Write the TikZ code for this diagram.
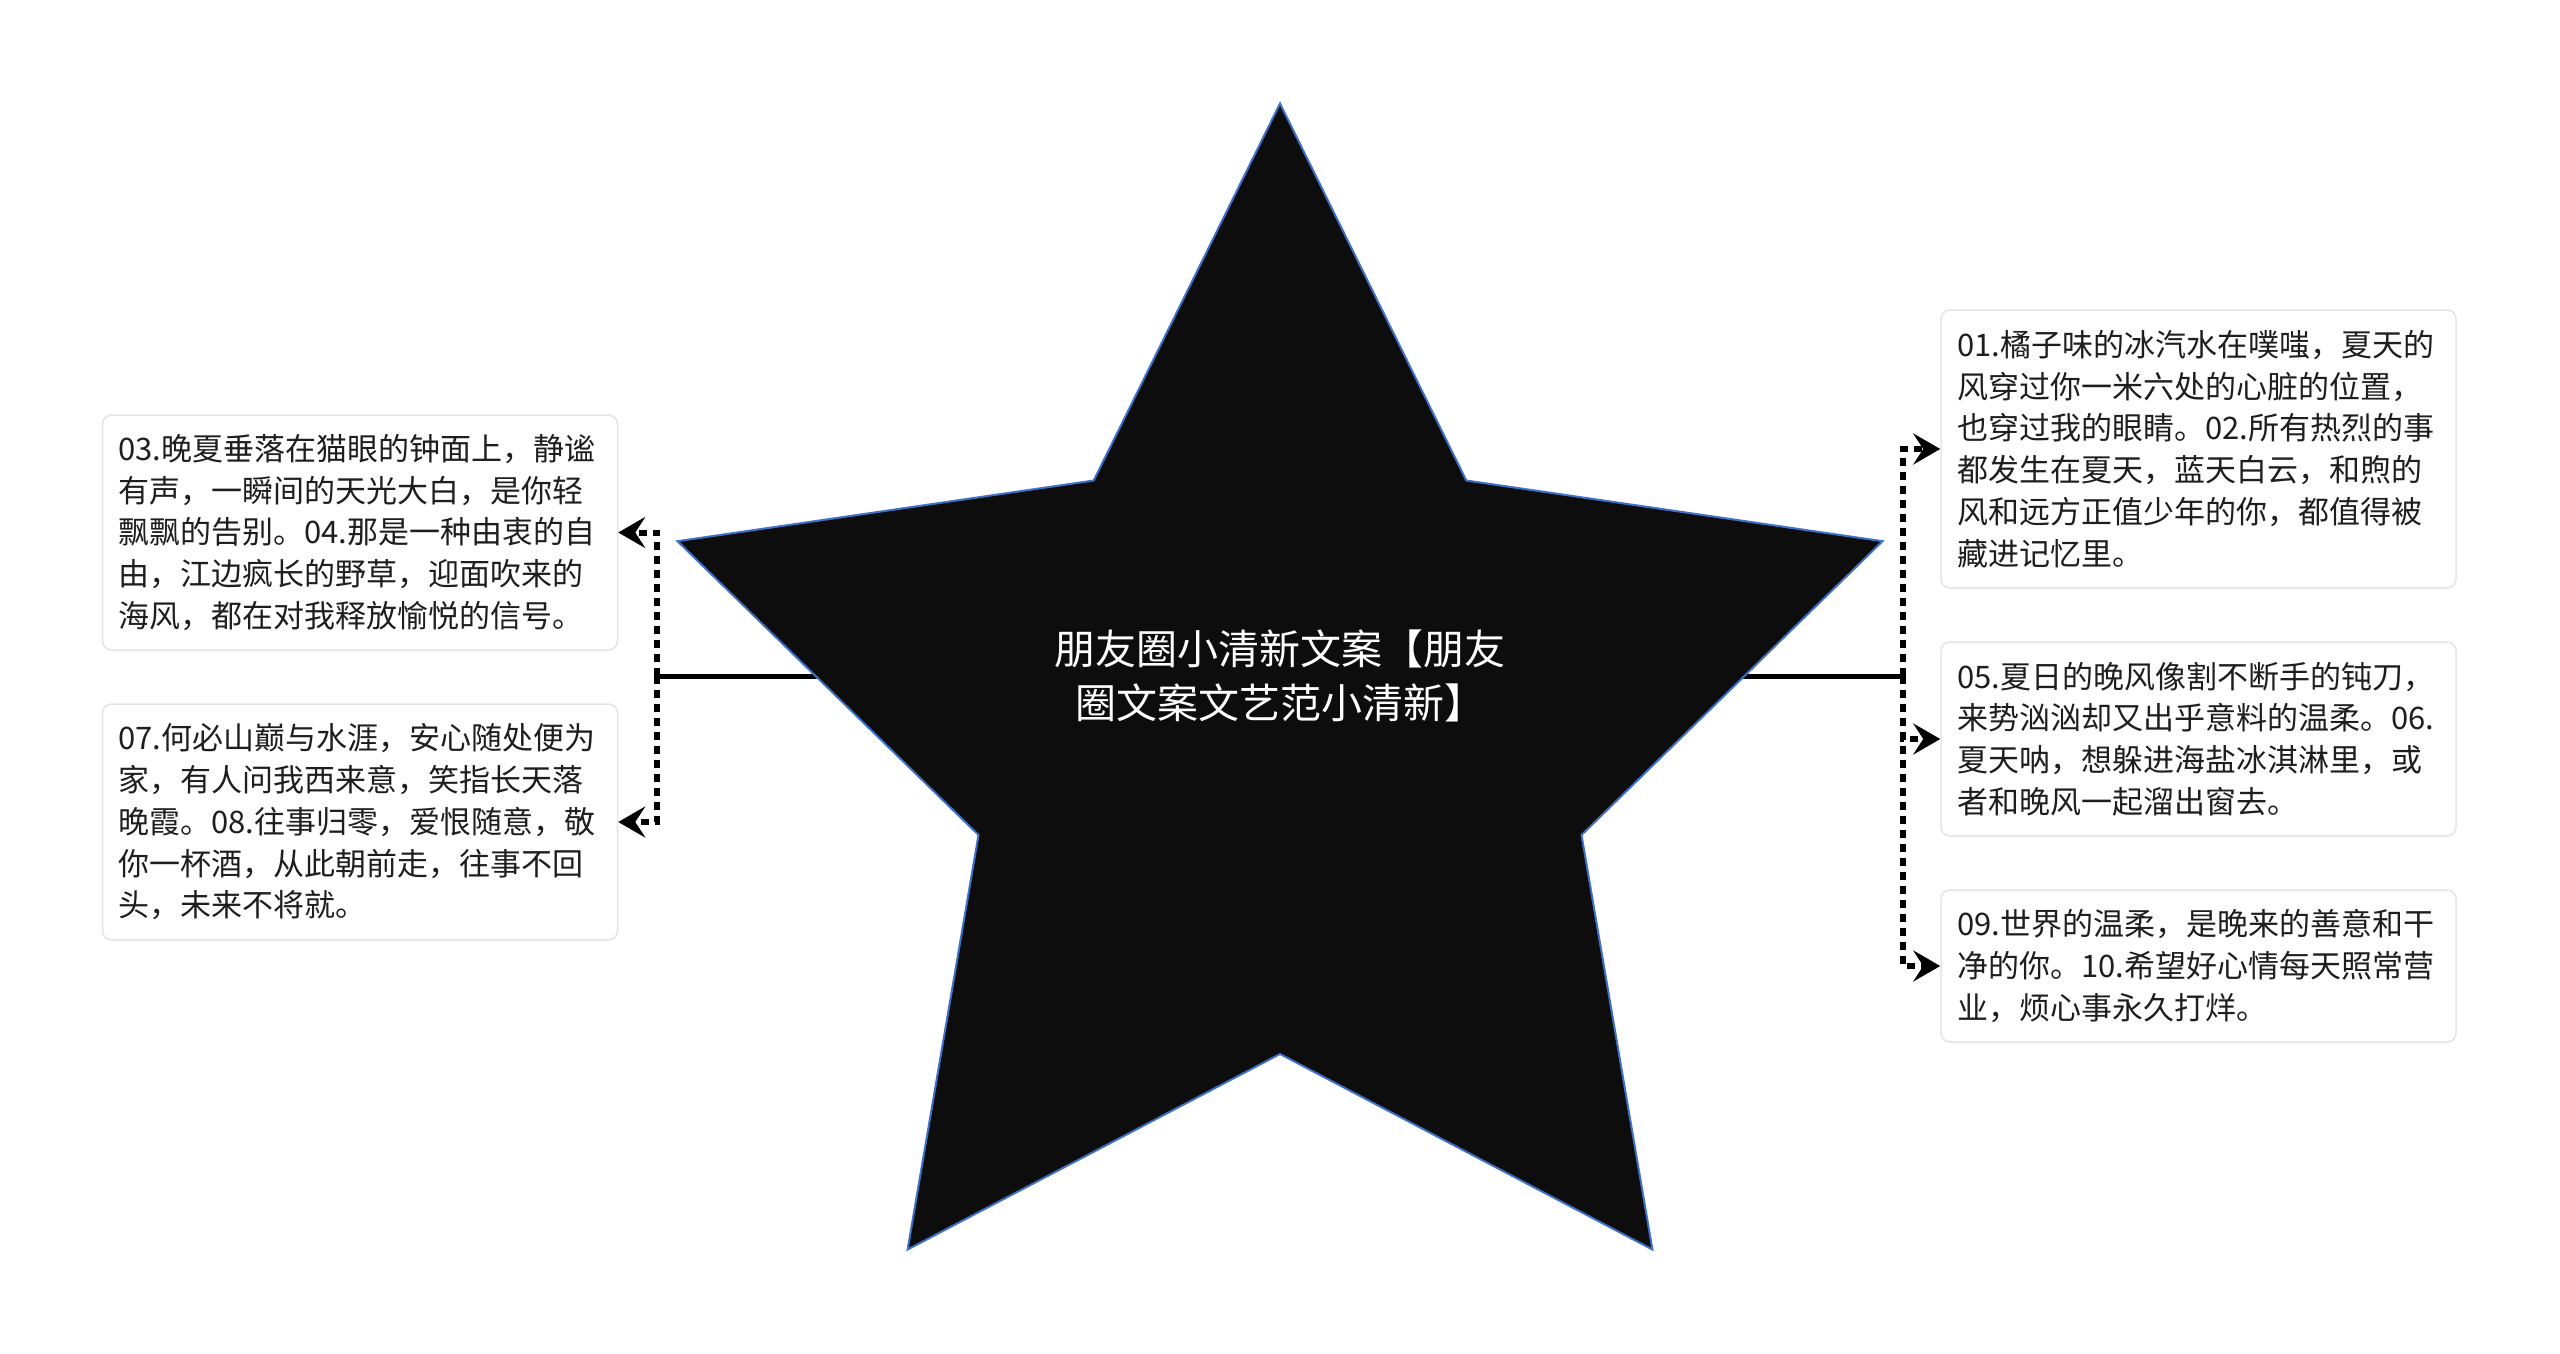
\documentclass[tikz,border=0pt]{standalone}
\usepackage{fontspec}
\setmainfont{Noto Sans CJK SC}
\usetikzlibrary{arrows.meta}
\pgfdeclarelayer{background}
\pgfdeclarelayer{canvas}
\pgfsetlayers{canvas,background,main}
\definecolor{starfill}{RGB}{13,13,13}
\definecolor{staredge}{RGB}{62,112,200}
\definecolor{boxedge}{RGB}{228,228,228}
\definecolor{txt}{RGB}{30,30,30}
\tikzset{
  leaf/.style={draw=boxedge, line width=1.5pt, rounded corners=9pt, fill=white,
    text=txt, align=left, text width=483pt, inner xsep=16pt, inner ysep=0pt,
    minimum width=515pt, font=\fontsize{31}{41.7}\selectfont},
  rootlabel/.style={text=white, align=center, inner sep=0pt,
    font=\fontsize{41}{54}\selectfont},
  trunk/.style={line width=5pt, draw=black},
  branch/.style={line width=6pt, draw=black, dash pattern=on 8pt off 6pt,
    -{Stealth[length=27pt,width=31pt,inset=10pt]}},
}
\begin{document}
\begin{tikzpicture}[x=1pt,y=-1pt]
\useasboundingbox (0,0) rectangle (2560,1354);
\begin{pgfonlayer}{canvas}
\fill[white] (0,0) rectangle (2560,1354);
\end{pgfonlayer}
% star
\draw[fill=starfill, draw=staredge, line width=2pt, line join=miter]
  (1280,103.5) -- (1466.3,480.5) -- (1882.5,541.2) -- (1581.5,835.0)
  -- (1652.4,1249.5) -- (1280,1054) -- (907.6,1249.5) -- (978.5,835.0)
  -- (677.5,541.2) -- (1093.7,480.5) -- cycle;
\node[rootlabel] (root) at (1280,676) {朋友圈小清新文案【朋友\\圈文案文艺范小清新】};
% leaves
\node[leaf, minimum height=278pt] (r1) at (2198.5,449) {01.橘子味的冰汽水在噗嗤，夏天的\\风穿过你一米六处的心脏的位置，\\也穿过我的眼睛。02.所有热烈的事\\都发生在夏天，蓝天白云，和煦的\\风和远方正值少年的你，都值得被\\藏进记忆里。};
\node[leaf, minimum height=194pt] (r2) at (2198.5,739) {05.夏日的晚风像割不断手的钝刀，\\来势汹汹却又出乎意料的温柔。06.\\夏天呐，想躲进海盐冰淇淋里，或\\者和晚风一起溜出窗去。};
\node[leaf, minimum height=152pt] (r3) at (2198.5,966) {09.世界的温柔，是晚来的善意和干\\净的你。10.希望好心情每天照常营\\业，烦心事永久打烊。};
\node[leaf, minimum height=235pt] (l1) at (360,532.5) {03.晚夏垂落在猫眼的钟面上，静谧\\有声，一瞬间的天光大白，是你轻\\飘飘的告别。04.那是一种由衷的自\\由，江边疯长的野草，迎面吹来的\\海风，都在对我释放愉悦的信号。};
\node[leaf, minimum height=236pt] (l2) at (360,822) {07.何必山巅与水涯，安心随处便为\\家，有人问我西来意，笑指长天落\\晚霞。08.往事归零，爱恨随意，敬\\你一杯酒，从此朝前走，往事不回\\头，未来不将就。};
\coordinate (jl) at (657,676);
\coordinate (jr) at (1903,676);
\begin{pgfonlayer}{background}
\draw[trunk] (root.center) -- (jl);
\draw[trunk] (root.center) -- (jr);
\end{pgfonlayer}
\draw[branch] (jl) |- (l1.east);
\draw[branch] (jl) |- (l2.east);
\draw[branch] (jr) |- (r1.west);
\draw[branch] (jr) |- (r2.west);
\draw[branch] (jr) |- (r3.west);
\end{tikzpicture}
\end{document}
